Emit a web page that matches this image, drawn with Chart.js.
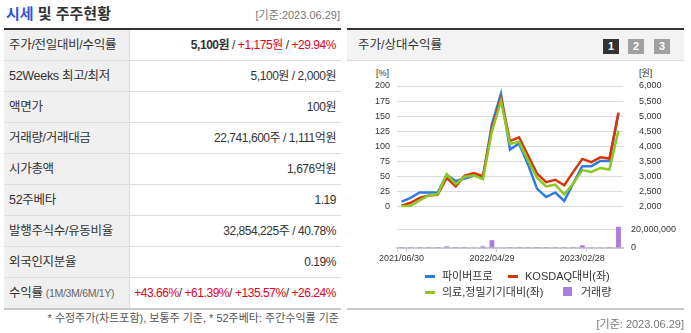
<!DOCTYPE html>
<html lang="ko">
<head>
<meta charset="utf-8">
<script src="https://cdn.jsdelivr.net/npm/chart.js@4.4.1/dist/chart.umd.min.js"></script>
<style>
  body { margin:0; width:691px; height:333px; background:#fff; position:relative; overflow:hidden;
         font-family:"Liberation Sans","Noto Sans CJK KR",sans-serif; color:#333; }
  .abs { position:absolute; white-space:nowrap; }
  .up { color:#e4001b; }
  #title { left:6px; top:4px; font-size:15px; font-weight:bold; line-height:20px; }
  #title .blue { color:#3355d6; }
  .gray { color:#777; font-size:11px; line-height:16px; }
  #tbl { position:absolute; left:4px; top:28px; width:337px; border-top:2px solid #333; }
  .row { height:30px; border-bottom:1px solid #ddd; display:flex; letter-spacing:-0.3px; }
  .row:last-child { border-bottom:2px solid #c8c8c8; }
  .th { width:126px; flex:none; box-sizing:border-box; background:#f0f0f0; border-right:1px solid #ddd;
        padding-left:5px; line-height:30px; font-size:12.5px; white-space:nowrap; }
  .th small { font-size:10.5px; color:#666; }
  .td { flex:1; text-align:right; padding-right:5px; line-height:30px; font-size:12px;
        letter-spacing:-0.45px; white-space:nowrap; }
  #rhead { position:absolute; left:347px; top:28px; width:337px; height:30px; border-top:2px solid #333;
           border-bottom:1px solid #ddd; background:#f3f3f3; }
  #rhead .t { position:absolute; left:11px; top:0; line-height:30px; font-size:12.5px; }
  .btn { position:absolute; top:9px; width:16px; height:15px; color:#fff; font-size:11px; font-weight:bold;
         text-align:center; line-height:15px; background:#a0a0a0; }
  #chartBox { position:absolute; left:347px; top:62px; width:337px; height:208px; }
  .unit { font-size:9px; line-height:12px; }
  .ln { position:absolute; width:10px; height:2.5px; }
  .lt { position:absolute; font-size:11px; line-height:16px; white-space:nowrap; }
  #rbottom { position:absolute; left:347px; top:308px; width:337px; border-top:2px solid #c8c8c8; }
</style>
</head>
<body>
<div id="title" class="abs"><span class="blue">시세</span> 및 주주현황</div>
<div class="abs gray" style="right:351px;top:7px">[기준:2023.06.29]</div>

<div id="tbl">
  <div class="row"><div class="th">주가/전일대비/수익률</div><div class="td"><b>5,100원</b> / <span class="up">+1,175원</span> / <span class="up">+29.94%</span></div></div>
  <div class="row"><div class="th">52Weeks 최고/최저</div><div class="td">5,100원 / 2,000원</div></div>
  <div class="row"><div class="th">액면가</div><div class="td">100원</div></div>
  <div class="row"><div class="th">거래량/거래대금</div><div class="td">22,741,600주 / 1,111억원</div></div>
  <div class="row"><div class="th">시가총액</div><div class="td">1,676억원</div></div>
  <div class="row"><div class="th">52주베타</div><div class="td">1.19</div></div>
  <div class="row"><div class="th">발행주식수/유동비율</div><div class="td">32,854,225주 / 40.78%</div></div>
  <div class="row"><div class="th">외국인지분율</div><div class="td">0.19%</div></div>
  <div class="row"><div class="th">수익률 <small>(1M/3M/6M/1Y)</small></div><div class="td"><span class="up">+43.66%</span>/ <span class="up">+61.39%</span>/ <span class="up">+135.57%</span>/ <span class="up">+26.24%</span></div></div>
</div>
<div class="abs gray" style="right:352px;top:310px;color:#555">* 수정주가(차트포함), 보통주 기준, * 52주베타: 주간수익률 기준</div>

<div id="rhead">
  <div class="t">주가/상대수익률</div>
  <div class="btn" style="left:256px;background:#333">1</div>
  <div class="btn" style="left:281px">2</div>
  <div class="btn" style="left:307px">3</div>
</div>

<div class="abs unit" style="left:376px;top:67px">[%]</div>
<div class="abs unit" style="left:639px;top:67px">[원]</div>

<div id="chartBox"><canvas id="chart" width="337" height="208"></canvas></div>

<span class="ln" style="left:425px;top:275px;background:#2f7be0"></span><span class="lt" style="left:442px;top:268px">파이버프로</span>
<span class="ln" style="left:508px;top:275px;background:#d4360c"></span><span class="lt" style="left:525px;top:268px">KOSDAQ대비(좌)</span>
<span class="ln" style="left:425px;top:291px;background:#8dc722"></span><span class="lt" style="left:442px;top:284px">의료,정밀기기대비(좌)</span>
<span class="ln" style="left:563px;top:287px;width:9px;height:9px;background:#a97fdd"></span><span class="lt" style="left:581px;top:284px">거래량</span>

<div id="rbottom"></div>
<div class="abs gray" style="right:7px;top:316px">[기준: 2023.06.29]</div>

<script>
// month-end dates
const labels = ['2021/06/30', '2021/07/30', '2021/08/31', '2021/09/30', '2021/10/29', '2021/11/30',
    '2021/12/30', '2022/01/28', '2022/02/28', '2022/03/31', '2022/04/29', '2022/05/31',
    '2022/06/30', '2022/07/29', '2022/08/31', '2022/09/30', '2022/10/31', '2022/11/30',
    '2022/12/29', '2023/01/31', '2023/02/28', '2023/03/31', '2023/04/28', '2023/05/31', '2023/06/29'];

// 파이버프로 price (원, right axis)
const priceData = [2180, 2300, 2480, 2480, 2480, 3060, 2860, 2940, 3040, 2960, 4740, 5740, 3900,
    4100, 3400, 2600, 2330, 2480, 2200, 2780, 3350, 3350, 3520, 3520, 5100];
// relative returns (%, left axis)
const kosdaqData = [2, 7, 15, 19, 20, 48, 34, 52, 56, 51, 130, 180, 109, 115, 85, 55, 41, 45, 36,
    58, 79.5, 74, 82, 80, 156];
const medicalData = [1.5, 2, 11, 19, 21, 54, 38, 50, 52.5, 46, 125, 175, 104, 108, 77, 48, 34, 37,
    21, 39, 61, 58, 64.5, 62, 126];
// 거래량
const volumeData = [60000, 40000, 40000, 60000, 80000, 1800000, 80000, 60000, 800000,
    1800000, 8400000, 800000, 60000, 60000, 80000, 60000, 60000, 40000, 60000, 80000,
    2900000, 800000, 800000, 80000, 22741600];

const xTickLabels = ['2021/06/30', '2022/04/29', '2023/02/28'];
const pctTicks = [0, 25, 50, 75, 100, 125, 150, 175, 200];
const priceTicks = [2000, 2500, 3000, 3500, 4000, 4500, 5000, 5500, 6000];
const volumeTicks = [0, 20000000];

// tick marks sit on the boundary right after each labelled month
const xMarkIdx = [0].concat(xTickLabels.map(l => labels.indexOf(l) + 1));

Chart.defaults.font.family = "'Liberation Sans', 'Noto Sans CJK KR', sans-serif";
Chart.defaults.font.size = 9;
Chart.defaults.color = '#333';

const fmt = v => Number(v).toLocaleString('en-US');

new Chart(document.getElementById('chart').getContext('2d'), {
    type: 'bar',
    data: {
        labels: labels,
        datasets: [
            {
                type: 'line', label: '의료,정밀기기대비(좌)', data: medicalData, yAxisID: 'yPct',
                borderColor: '#8dc722', borderWidth: 2.5, pointRadius: 0, tension: 0, order: 1
            },
            {
                type: 'line', label: 'KOSDAQ대비(좌)', data: kosdaqData, yAxisID: 'yPct',
                borderColor: '#d4360c', borderWidth: 2.5, pointRadius: 0, tension: 0, order: 2
            },
            {
                type: 'line', label: '파이버프로', data: priceData, yAxisID: 'yPrice',
                borderColor: '#2f7be0', borderWidth: 2.5, pointRadius: 0, tension: 0, order: 3
            },
            {
                type: 'bar', label: '거래량', data: volumeData, yAxisID: 'yVol',
                backgroundColor: '#a97fdd', barPercentage: 0.6, categoryPercentage: 0.9, order: 4
            }
        ]
    },
    options: {
        responsive: false,
        animation: false,
        layout: { padding: { top: 24, left: 0, right: 0, bottom: 0 } },
        plugins: { legend: { display: false }, tooltip: { enabled: false } },
        scales: {
            x: {
                offset: true,
                afterFit: s => { s.height = 22; },
                border: { display: true, color: '#c5ccd3', width: 2 },
                grid: {
                    offset: true, drawOnChartArea: false, drawTicks: true, tickLength: 4,
                    color: c => xMarkIdx.includes(c.index) ? '#c5ccd3' : 'rgba(0,0,0,0)',
                    tickColor: c => xMarkIdx.includes(c.index) ? '#c5ccd3' : 'rgba(0,0,0,0)'
                },
                ticks: {
                    autoSkip: false, maxRotation: 0, padding: 1,
                    callback: (v, i) => xTickLabels.includes(labels[i]) ? labels[i] : ''
                }
            },
            yPct: {
                position: 'left', min: -67.8, max: 200,
                afterFit: s => { s.width = 50; },
                afterBuildTicks: s => { s.ticks = pctTicks.map(v => ({ value: v })); },
                border: { display: false },
                grid: { color: '#dcdcdc', drawTicks: false },
                ticks: { padding: 7, autoSkip: false }
            },
            yPrice: {
                position: 'right', stack: 'right', stackWeight: 121, min: 2000, max: 6000,
                afterFit: s => { s.width = 61; },
                afterBuildTicks: s => { s.ticks = priceTicks.map(v => ({ value: v })); },
                border: { display: false },
                grid: { display: false },
                ticks: { padding: 8, autoSkip: false, callback: fmt }
            },
            yVol: {
                position: 'right', stack: 'right', stackWeight: 41, min: 0, max: 44000000,
                afterFit: s => { s.width = 61; },
                afterBuildTicks: s => { s.ticks = volumeTicks.map(v => ({ value: v })); },
                border: { display: false },
                grid: { color: '#dcdcdc', drawTicks: false },
                ticks: { padding: 8, autoSkip: false, callback: fmt }
            }
        }
    }
});
</script>
</body>
</html>
